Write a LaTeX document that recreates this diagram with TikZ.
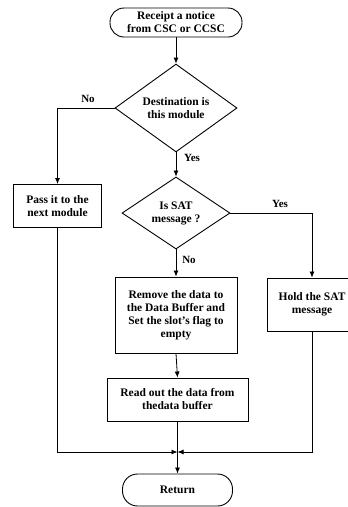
\documentclass[tikz,border=0pt]{standalone}
\usepackage{fontspec}
\setmainfont{Liberation Serif}
\usetikzlibrary{shapes.geometric,arrows.meta}
\begin{document}
\begin{tikzpicture}[x=1pt,y=-1pt,
  every node/.style={font=\bfseries\fontsize{11.5}{13}\selectfont, align=center},
  box/.style={draw, line width=0.9pt, inner sep=1pt},
  term/.style={draw, line width=0.9pt, rounded corners=14pt, inner sep=1pt},
  dec/.style={draw, line width=0.9pt, diamond, inner sep=0pt},
  lbl/.style={font=\bfseries\fontsize{11}{12}\selectfont},
  flow/.style={line width=0.8pt},
  arr/.style={flow, -{Latex[length=6pt,width=5pt]}}]
\useasboundingbox (0,0) rectangle (348,507);
\node[term, minimum width=132pt, minimum height=29pt] (start) at (176,22.5) {Receipt a notice\\from CSC or CCSC};
\node[dec, minimum width=122pt, minimum height=75pt] (dest) at (176,108) {Destination is\\this module};
\node[box, minimum width=88pt, minimum height=43pt] (pass) at (57.5,206) {Pass it to the\\next module};
\node[dec, minimum width=108pt, minimum height=68pt] (sat) at (176,213) {Is SAT\\message ?};
\node[box, minimum width=122pt, minimum height=76pt] (remove) at (176,315) {Remove the data to\\the Data Buffer and\\Set the slot's flag to\\empty};
\node[box, minimum width=90pt, minimum height=53pt] (hold) at (312,304.5) {Hold the SAT\\message};
\node[box, minimum width=141pt, minimum height=43pt] (read) at (177.5,399.5) {Read out the data from\\thedata buffer};
\node[term, minimum width=110pt, minimum height=32pt, rounded corners=15pt] (ret) at (177.5,490) {Return};
\coordinate (merge) at (177.5,452);

\node[lbl] (lno1) at (88,99) {No};
\node[lbl] (lyes1) at (192,158) {Yes};
\node[lbl] (lyes2) at (280,204) {Yes};
\node[lbl] (lno2) at (189,260) {No};

\draw[arr] (start) -- (dest);
\draw[arr] (dest.west) -| (pass.north);
\draw[arr] (dest.south) -- (sat.north);
\draw[arr] (sat.south) -- (remove.north);
\draw[arr] (sat.east) -| (hold.north);
\draw[arr] (remove.south) -- (read.north);
\draw[arr] (pass.south) |- (merge);
\draw[arr] (hold.south) |- (merge);
\draw[arr] (read.south) -- (ret.north);
\end{tikzpicture}
\end{document}
